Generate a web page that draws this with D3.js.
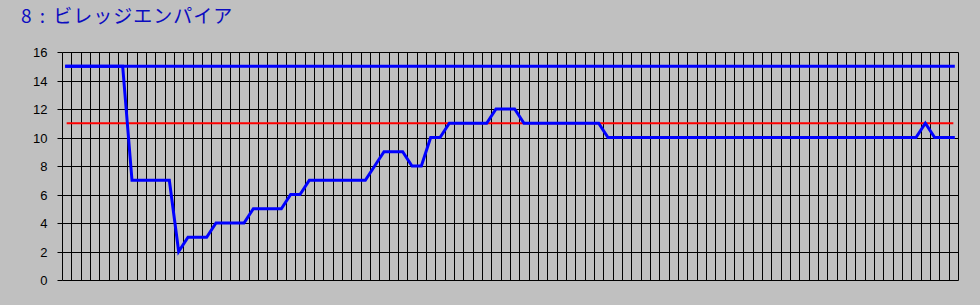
<!DOCTYPE html>
<html>
<head>
<meta charset="utf-8">
<script src="https://cdn.jsdelivr.net/npm/d3@7"></script>
<style>
  html, body { margin: 0; padding: 0; background: #c0c0c0; }
  svg { display: block; }
</style>
</head>
<body>
<svg id="chart" width="980" height="305"></svg>
<script>
const title = "8 : ビレッジエンパイア";
const yTicks = [0, 2, 4, 6, 8, 10, 12, 14, 16];
// 96 periods
const categories = d3.range(1, 97);
const topLine = [
  15,15,15,15,15,15,15,15,15,15,15,15,15,15,15,15,15,15,15,15,15,15,15,15,
  15,15,15,15,15,15,15,15,15,15,15,15,15,15,15,15,15,15,15,15,15,15,15,15,
  15,15,15,15,15,15,15,15,15,15,15,15,15,15,15,15,15,15,15,15,15,15,15,15,
  15,15,15,15,15,15,15,15,15,15,15,15,15,15,15,15,15,15,15,15,15,15,15,15
];
const redLine = [
  11,11,11,11,11,11,11,11,11,11,11,11,11,11,11,11,11,11,11,11,11,11,11,11,
  11,11,11,11,11,11,11,11,11,11,11,11,11,11,11,11,11,11,11,11,11,11,11,11,
  11,11,11,11,11,11,11,11,11,11,11,11,11,11,11,11,11,11,11,11,11,11,11,11,
  11,11,11,11,11,11,11,11,11,11,11,11,11,11,11,11,11,11,11,11,11,11,11,11
];
const rankLine = [
  15,15,15,15,15,15,15, 7, 7, 7, 7, 7, 2, 3, 3, 3, 4, 4, 4, 4, 5, 5, 5, 5,
   6, 6, 7, 7, 7, 7, 7, 7, 7, 8, 9, 9, 9, 8, 8,10,10,11,11,11,11,11,12,12,
  12,11,11,11,11,11,11,11,11,11,10,10,10,10,10,10,10,10,10,10,10,10,10,10,
  10,10,10,10,10,10,10,10,10,10,10,10,10,10,10,10,10,10,10,10,11,10,10,10
];

const svg = d3.select("#chart");
const mLeft = 62, mRight = 958, mTop = 52, mBottom = 280;

const x = d3.scaleBand().domain(categories).range([mLeft, mRight]).padding(0);
const y = d3.scaleLinear().domain([0, 16]).range([mBottom, mTop]);
const cx = d => x(d) + x.bandwidth() / 2;

// title
svg.append("text")
  .attr("x", 21).attr("y", 22.5)
  .attr("font-family", "'Noto Sans CJK JP', sans-serif")
  .attr("font-size", 19)
  .attr("letter-spacing", 1)
  .attr("word-spacing", 2)
  .attr("fill", "#0c0cc0")
  .style("white-space", "pre")
  .text(title);

const g = svg.append("g").attr("transform", "translate(0.5,0.5)");

// horizontal gridlines
g.selectAll("line.hg").data(yTicks).join("line")
  .attr("class", "hg")
  .attr("x1", mLeft).attr("x2", mRight)
  .attr("y1", d => Math.round(y(d))).attr("y2", d => Math.round(y(d)))
  .attr("stroke", "#000").attr("stroke-width", 1);

// vertical gridlines (category boundaries)
const bounds = categories.map(c => x(c)).concat([x.range()[1]]);
g.selectAll("line.vg").data(bounds).join("line")
  .attr("class", "vg")
  .attr("x1", d => Math.round(d)).attr("x2", d => Math.round(d))
  .attr("y1", mTop).attr("y2", mBottom)
  .attr("stroke", "#000").attr("stroke-width", 1);

// y axis
const yAxis = d3.axisLeft(y).tickValues(yTicks).tickSize(5).tickPadding(10);
const ya = g.append("g").attr("transform", `translate(${mLeft},0)`).call(yAxis);
ya.select(".domain").remove();
ya.selectAll(".tick line").attr("stroke", "#000");
ya.selectAll(".tick").attr("transform", d => `translate(0,${Math.round(y(d))})`);
ya.selectAll(".tick text")
  .attr("font-family", "'Liberation Sans', Arial, sans-serif")
  .attr("font-size", 13)
  .attr("fill", "#000");

const line = d3.line().x((d, i) => cx(categories[i])).y(d => y(d));

svg.append("path").datum(redLine)
  .attr("d", line).attr("fill", "none")
  .attr("stroke", "#ff0000").attr("stroke-width", 2);

svg.append("path").datum(topLine)
  .attr("d", line).attr("fill", "none")
  .attr("stroke", "#0000ff").attr("stroke-width", 3)
  .attr("stroke-linecap", "square");

svg.append("path").datum(rankLine)
  .attr("d", line).attr("fill", "none")
  .attr("stroke", "#0000ff").attr("stroke-width", 3)
  .attr("stroke-linecap", "square")
  .attr("stroke-linejoin", "miter");
</script>
</body>
</html>
